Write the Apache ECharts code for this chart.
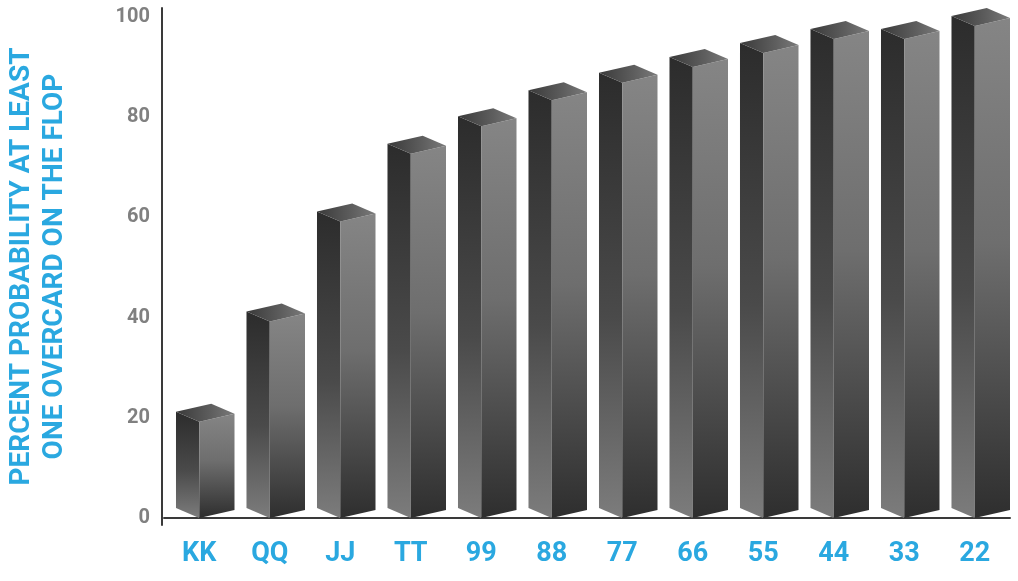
<!DOCTYPE html>
<html>
<head>
<meta charset="utf-8">
<script src="https://cdn.jsdelivr.net/npm/echarts@6/dist/echarts.min.js"></script>
<style>
html,body{margin:0;padding:0;background:#fff;}
#chart{width:1018px;height:581px;}
</style>
</head>
<body>
<div id="chart"></div>
<script>
const categories = ['KK','QQ','JJ','TT','99','88','77','66','55','44','33','22'];
const values = [21, 41, 61, 74.5, 80, 85.2, 88.7, 91.8, 94.6, 97.4, 97.4, 100];
const yTickValues = [0, 20, 40, 60, 80, 100];
const yTitle = 'PERCENT PROBABILITY AT LEAST\nONE OVERCARD ON THE FLOP';

const chart = echarts.init(document.getElementById('chart'), null, {renderer: 'canvas'});
const G = echarts.graphic;

function renderPrism(params, api) {
  const idx = api.value(0);
  const base = api.coord([idx, 0]);
  const top = api.coord([idx, api.value(1)]);
  const bw = api.size([1, 0])[0];
  const L = bw * 0.33, R = bw * 0.5;
  const dL = 10, dR = 8;
  const x = base[0], y0 = base[1];
  const yt = top[1] + 9;
  const leftFace = [[x - L, y0 - dL], [x, y0], [x, yt], [x - L, yt - dL]];
  const frontFace = [[x, y0], [x + R, y0 - dR], [x + R, yt - dR], [x, yt]];
  const topFace = [[x, yt], [x - L, yt - dL], [x - L + R, yt - dL - dR], [x + R, yt - dR]];
  return {
    type: 'group',
    children: [
      {type: 'polygon', shape: {points: leftFace}, style: {fill: new G.LinearGradient(0, 0, 0, 1, [
        {offset: 0, color: '#2c2c2c'}, {offset: 0.55, color: '#4a4a4a'}, {offset: 1, color: '#7c7c7c'}])}},
      {type: 'polygon', shape: {points: frontFace}, style: {fill: new G.LinearGradient(0, 0, 0, 1, [
        {offset: 0, color: '#858585'}, {offset: 0.45, color: '#6e6e6e'}, {offset: 1, color: '#2e2e2e'}])}},
      {type: 'polygon', shape: {points: topFace}, style: {fill: new G.LinearGradient(0, 0, 1, 0, [
        {offset: 0, color: '#3a3a3a'}, {offset: 0.6, color: '#5e5e5e'}, {offset: 1, color: '#7a7a7a'}])}}
    ]
  };
}

const option = {
  backgroundColor: '#ffffff',
  animation: false,
  grid: {left: 164, right: 8, top: 8, bottom: 56, outerBoundsMode: 'none', containLabel: false},
  xAxis: {
    type: 'category',
    data: categories,
    axisLine: {show: true, lineStyle: {color: '#3a3a3a', width: 2}},
    axisTick: {show: false},
    axisLabel: {
      margin: 16,
      color: '#2aa8e0',
      fontFamily: 'Roboto, sans-serif',
      fontWeight: 'bold',
      fontSize: 27
    },
    splitLine: {show: false}
  },
  yAxis: {
    type: 'value',
    min: -1.4,
    max: 101.8,
    offset: 2,
    name: yTitle,
    nameLocation: 'middle',
    nameRotate: 90,
    nameGap: 91,
    nameTextStyle: {
      color: '#2aa8e0',
      fontFamily: 'Roboto, sans-serif',
      fontWeight: 'bold',
      fontSize: 28,
      lineHeight: 33,
      align: 'center'
    },
    axisLine: {show: true, lineStyle: {color: '#3a3a3a', width: 2}},
    axisTick: {show: false},
    splitLine: {show: false},
    axisLabel: {
      customValues: yTickValues,
      margin: 12,
      color: '#808080',
      fontFamily: 'Roboto, sans-serif',
      fontWeight: 'bold',
      fontSize: 20
    }
  },
  series: [{
    type: 'custom',
    renderItem: renderPrism,
    encode: {x: 0, y: 1},
    data: values.map((v, i) => [i, v])
  }]
};
chart.setOption(option);
</script>
</body>
</html>
